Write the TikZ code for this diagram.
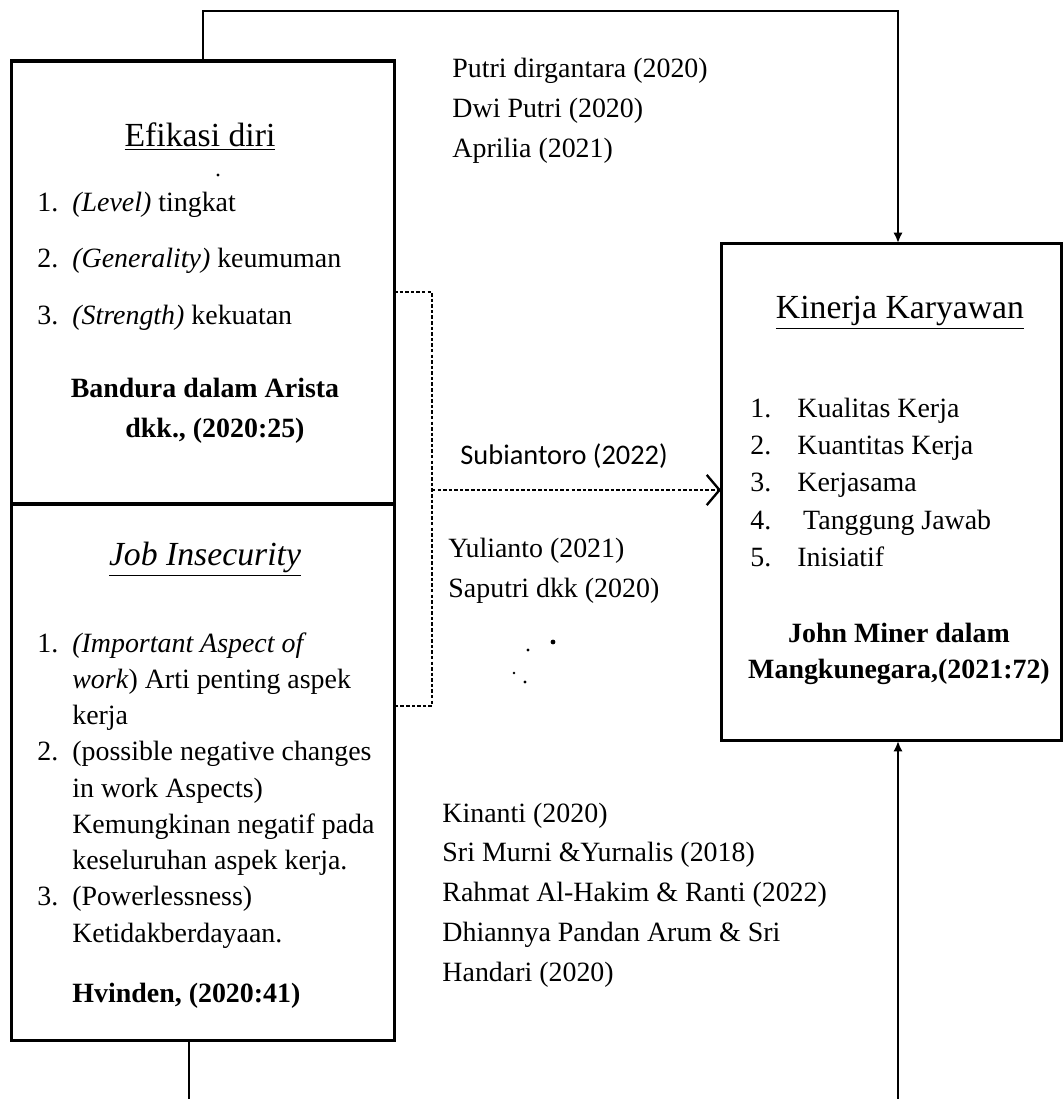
\documentclass[tikz,border=0pt]{standalone}
\usepackage{fontspec}
\setmainfont{Liberation Serif}
\newfontfamily\sansref{Carlito}
\usetikzlibrary{arrows.meta}
\tikzset{
  box/.style={draw=black, line width=1.3pt, inner sep=0pt, outer sep=0pt},
  conn/.style={draw=black, line width=0.9pt},
  dashline/.style={draw=black, line width=0.9pt, dash pattern=on 1.5pt off 0.9pt},
  txt/.style={inner sep=0pt, font=\fontsize{12}{14}\selectfont},
  ttl/.style={inner sep=0pt, font=\fontsize{14.5}{17}\selectfont},
  tipfill/.style={-{Latex[length=4.5pt,width=4pt]}},
}

\begin{document}
\begin{tikzpicture}[x=0.43pt, y=-0.43pt]
  \useasboundingbox (0,0) rectangle (1063,1099);

  % boxes
  \node[box, minimum width=164.3pt, minimum height=190.5pt] (efikasi) at (203,282.5) {};
  \node[box, minimum width=164.3pt, minimum height=230.5pt] (jobins) at (203,772) {};
  \node[box, minimum width=146.6pt, minimum height=214.1pt] (kinerja) at (891.5,492) {};

  % efikasi diri
  \node[ttl, anchor=base] (efititle) at (200,146) {\underline{Efikasi diri}};
  \fill (218,175) circle (1.6);
  \node[txt, anchor=base west, font=\fontsize{12}{24.5}\selectfont] (efilist) at (37,211)
    {\begin{tabular}[t]{@{}p{15pt}@{}l@{}}
      1. & \textit{(Level)} tingkat\\
      2. & \textit{(Generality)} keumuman\\
      3. & \textit{(Strength)} kekuatan
    \end{tabular}};
  \node[txt, anchor=base, font=\bfseries\fontsize{12}{17.2}\selectfont] (efisrc) at (205,397)
    {\begin{tabular}[t]{@{}c@{}}Bandura dalam Arista\\ \hspace*{8.6pt}dkk., (2020:25)\end{tabular}};

  % job insecurity
  \node[ttl, anchor=base] (jobtitle) at (205,565) {\underline{\textit{Job Insecurity}}};
  \node[txt, anchor=base west, font=\fontsize{12}{15.6}\selectfont] (joblist) at (37,652)
    {\begin{tabular}[t]{@{}p{15pt}@{}l@{}}
      1. & \textit{(Important Aspect of}\\
         & \textit{work}) Arti penting aspek\\
         & kerja\\
      2. & (possible negative changes\\
         & in work Aspects)\\
         & Kemungkinan negatif pada\\
         & keseluruhan aspek kerja.\\
      3. & (Powerlessness)\\
         & Ketidakberdayaan.
    \end{tabular}};
  \node[txt, anchor=base west, font=\bfseries\fontsize{12}{14}\selectfont] (jobsrc) at (72,1002) {Hvinden, (2020:41)};

  % kinerja karyawan
  \node[ttl, anchor=base] (kintitle) at (900,318) {\underline{Kinerja Karyawan}};
  \node[txt, anchor=base west, font=\fontsize{12}{16.1}\selectfont] (kinlist) at (750,417)
    {\begin{tabular}[t]{@{}p{20.2pt}@{}l@{}}
      1. & Kualitas Kerja\\
      2. & Kuantitas Kerja\\
      3. & Kerjasama\\
      4. & \hspace*{2.5pt}Tanggung Jawab\\
      5. & Inisiatif
    \end{tabular}};
  \node[txt, anchor=base, font=\bfseries\fontsize{12}{15.9}\selectfont] (kinsrc) at (899,642)
    {\begin{tabular}[t]{@{}c@{}}John Miner dalam\\ Mangkunegara,(2021:72)\end{tabular}};

  % references
  \node[txt, anchor=base west, font=\fontsize{12}{17.2}\selectfont] (reftop) at (452,77)
    {\begin{tabular}[t]{@{}l@{}}Putri dirgantara (2020)\\ Dwi Putri (2020)\\ Aprilia (2021)\end{tabular}};
  \node[txt, anchor=base west, font=\sansref\fontsize{12.2}{14}\selectfont] (refarrow) at (460,464) {Subiantoro (2022)};
  \node[txt, anchor=base west, font=\fontsize{12}{17.6}\selectfont] (refmid) at (448,557)
    {\begin{tabular}[t]{@{}l@{}}Yulianto (2021)\\ Saputri dkk (2020)\end{tabular}};
  \fill (553,642) circle (2.4);
  \fill (528,650) circle (1.6);
  \fill (514,673) circle (1.3);
  \fill (525,682) circle (1.6);
  \node[txt, anchor=base west, font=\fontsize{12}{17.1}\selectfont] (refbot) at (442,822)
    {\begin{tabular}[t]{@{}l@{}}Kinanti (2020)\\ Sri Murni \&Yurnalis (2018)\\ Rahmat Al-Hakim \& Ranti (2022)\\ Dhiannya Pandan Arum \& Sri\\ Handari (2020)\end{tabular}};

  % connectors
  \coordinate (topturn) at (898,11);
  \coordinate (botR) at (898,1099);
  \coordinate (botL) at (189,1099);
  \draw[conn, tipfill] (efikasi.north) |- (topturn) -- (topturn |- kinerja.north);
  \draw[conn, tipfill] (botR) -- (botR |- kinerja.south);
  \draw[conn] (botL |- jobins.south) -- (botL);

  \coordinate (brT) at (432,292);
  \coordinate (brM) at (432,490);
  \coordinate (brB) at (432,706);
  \draw[dashline] (brT -| efikasi.east) -- (brT) -- (brB) -- (brB -| jobins.east);
  \draw[dashline, -{Straight Barb[length=5.5pt,width=13pt,line width=1pt]}] (brM) -- (brM -| kinerja.west);
\end{tikzpicture}
\end{document}
